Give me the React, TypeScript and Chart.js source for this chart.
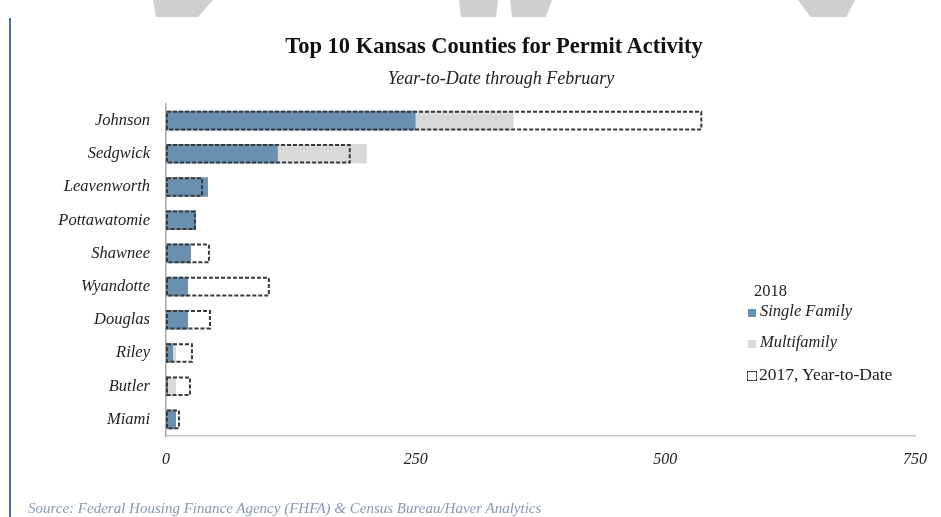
import React, { useEffect, useRef } from "react";
import { Chart, registerables } from "chart.js";

Chart.register(...registerables);

const categories = [
  "Johnson",
  "Sedgwick",
  "Leavenworth",
  "Pottawatomie",
  "Shawnee",
  "Wyandotte",
  "Douglas",
  "Riley",
  "Butler",
  "Miami",
];
const singleFamily2018 = [250, 112, 42, 30, 25, 22, 22, 7, 2, 10];
const multifamily2018 = [98, 89, 0, 0, 0, 0, 0, 3, 8, 0];
const ytd2017 = [537, 185, 37, 30, 44, 104, 45, 27, 25, 14];
const xTicks = [0, 250, 500, 750];

const BLUE = "#6b8fae";
const GRAY = "#d9d9d9";
const SERIF = '"Liberation Serif", "DejaVu Serif", serif';

const dashedBoxes = {
  id: "dashedBoxes",
  afterDatasetsDraw(chart: any) {
    const meta = chart.getDatasetMeta(2);
    const ctx = chart.ctx;
    ctx.save();
    ctx.strokeStyle = "#3a3a3a";
    ctx.lineWidth = 2;
    ctx.setLineDash([4, 2]);
    meta.data.forEach((el: any) => {
      const p = el.getProps(["x", "y", "base", "height"], true);
      const left = Math.min(p.base, p.x) + 1;
      const right = Math.max(p.base, p.x) - 1;
      const top = p.y - p.height / 2 + 1;
      const bottom = p.y + p.height / 2 - 1;
      ctx.strokeRect(left, top, right - left, bottom - top);
    });
    ctx.restore();
  },
};

export default function App() {
  const ref = useRef<HTMLCanvasElement>(null);
  useEffect(() => {
    document.body.style.margin = "0";
    const chart = new Chart(ref.current as HTMLCanvasElement, {
      type: "bar",
      data: {
        labels: categories,
        datasets: [
          { label: "Single Family", data: singleFamily2018, backgroundColor: BLUE, stack: "2018", grouped: false } as any,
          { label: "Multifamily", data: multifamily2018, backgroundColor: GRAY, stack: "2018", grouped: false } as any,
          { label: "2017, Year-to-Date", data: ytd2017, backgroundColor: "rgba(0,0,0,0)", stack: "2017", grouped: false } as any,
        ],
      },
      options: {
        indexAxis: "y",
        responsive: false,
        animation: false,
        layout: { padding: { top: 104, right: 19, left: 0, bottom: 0 } },
        datasets: { bar: { categoryPercentage: 1, barPercentage: 0.59 } } as any,
        plugins: { legend: { display: false }, tooltip: { enabled: false } },
        scales: {
          x: {
            stacked: true,
            min: 0,
            max: 750,
            afterBuildTicks: (s: any) => {
              s.ticks = xTicks.map((v) => ({ value: v }));
            },
            afterFit: (s: any) => {
              s.height = 81;
            },
            grid: { display: false, drawTicks: false },
            border: { display: true, color: "#c4c4c4", width: 1.5 },
            ticks: {
              padding: 14,
              color: "#222",
              font: { family: SERIF, size: 16, style: "italic" },
              maxRotation: 0,
            },
          },
          y: {
            stacked: true,
            afterFit: (s: any) => {
              s.width = 166;
            },
            grid: { display: false, drawTicks: false },
            border: { display: true, color: "#a8a8a8", width: 1.5 },
            ticks: {
              padding: 16,
              color: "#222",
              font: { family: SERIF, size: 16.5, style: "italic" },
            },
          },
        },
      },
      plugins: [dashedBoxes],
    });
    return () => chart.destroy();
  }, []);

  const abs: React.CSSProperties = { position: "absolute", whiteSpace: "nowrap", fontFamily: SERIF };
  const wm: React.CSSProperties = { position: "absolute", top: 0, height: 17, background: "#cfcfcf" };

  return (
    <div style={{ position: "absolute", left: 0, top: 0, width: 941, height: 517, background: "#fff", overflow: "hidden" }}>
      <div style={{ ...wm, left: 153, width: 60, clipPath: "polygon(0 0,100% 0,75% 100%,5% 100%)" }} />
      <div style={{ ...wm, left: 459, width: 39, clipPath: "polygon(0 0,100% 0,95% 100%,5% 100%)" }} />
      <div style={{ ...wm, left: 510, width: 42, clipPath: "polygon(0 0,100% 0,85% 100%,5% 100%)" }} />
      <div style={{ ...wm, left: 798, width: 57, clipPath: "polygon(0 0,100% 0,85% 100%,22% 100%)" }} />
      <div style={{ position: "absolute", left: 9, top: 18, width: 2, height: 499, background: "#4f6f99" }} />
      <canvas ref={ref} width={941} height={517} style={{ position: "absolute", left: 0, top: 0, width: 941, height: 517 }} />
      <div style={{ ...abs, left: 494, top: 33, transform: "translateX(-50%)", fontSize: 22.5, fontWeight: "bold", color: "#111" }}>
        Top 10 Kansas Counties for Permit Activity
      </div>
      <div style={{ ...abs, left: 501, top: 68, transform: "translateX(-50%)", fontSize: 18, fontStyle: "italic", color: "#222" }}>
        Year-to-Date through February
      </div>
      <div style={{ ...abs, left: 754, top: 281, fontSize: 16.5, color: "#222" }}>2018</div>
      <div style={{ ...abs, left: 748, top: 301, fontSize: 16.5, color: "#222", fontStyle: "italic", display: "flex", alignItems: "center" }}>
        <span style={{ display: "inline-block", width: 8, height: 8, background: BLUE, marginRight: 4, marginTop: 3 }} />
        Single Family
      </div>
      <div style={{ ...abs, left: 748, top: 332, fontSize: 16.5, color: "#222", fontStyle: "italic", display: "flex", alignItems: "center" }}>
        <span style={{ display: "inline-block", width: 8, height: 8, background: GRAY, marginRight: 4, marginTop: 3 }} />
        Multifamily
      </div>
      <div style={{ ...abs, left: 747, top: 364, fontSize: 17.5, color: "#222", display: "flex", alignItems: "center" }}>
        <span style={{ display: "inline-block", boxSizing: "border-box", width: 10, height: 10, border: "1.5px dashed #333", marginRight: 2, marginTop: 2 }} />
        2017, Year-to-Date
      </div>
      <div style={{ ...abs, left: 28, top: 500, fontSize: 15, fontStyle: "italic", color: "#8698b4" }}>
        Source: Federal Housing Finance Agency (FHFA) &amp; Census Bureau/Haver Analytics
      </div>
    </div>
  );
}
